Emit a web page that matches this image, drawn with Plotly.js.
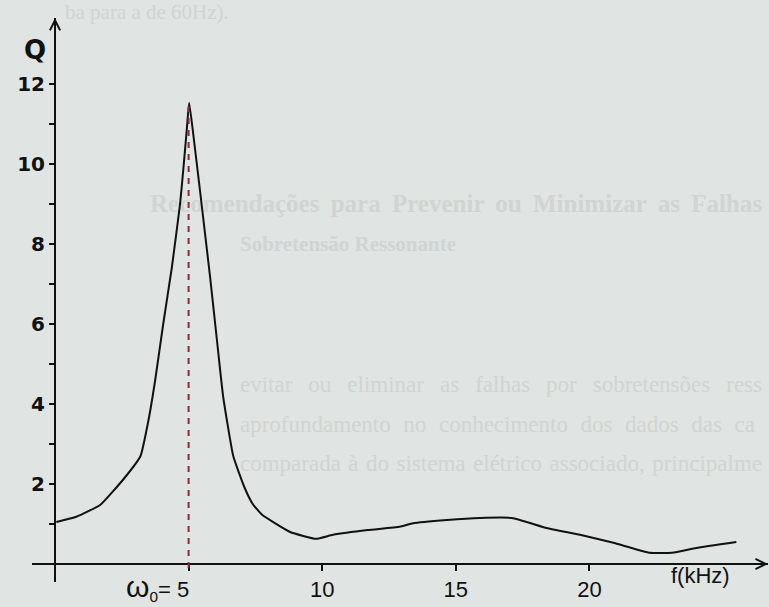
<!DOCTYPE html>
<html>
<head>
<meta charset="utf-8">
<script src="https://cdn.plot.ly/plotly-3.0.1.min.js"></script>
<style>
  html, body { margin: 0; padding: 0; background: #e0e4e2; }
  #wrap { position: relative; width: 769px; height: 607px; overflow: hidden; background: #e0e4e2; }
  #ghost { position: absolute; left: 0; top: 0; width: 769px; height: 607px; }
  #ghost div { position: absolute; white-space: nowrap; font-family: 'Liberation Serif', serif; color: #d0d4d2;
               line-height: 1; }
  #ghost div.j { text-align: justify; text-align-last: justify; }
  #chart { position: absolute; left: 0; top: 0; width: 769px; height: 607px; }
</style>
</head>
<body>
<div id="wrap">
  <div id="ghost"></div>
  <div id="chart"></div>
</div>
<script>
// Frequency (kHz) and quality factor Q
const freq = [0.05, 0.8, 1.7, 2.6, 3.2, 3.5, 3.75, 4.05, 4.37, 4.68, 4.8, 4.93, 5.02,
              5.2, 5.45, 5.8, 6.06, 6.29, 6.67, 7.1, 7.4, 7.75, 8.8, 9.77, 10.4,
              11.7, 12.9, 13.4, 14.67, 15.9, 17.1, 18.4, 19.65, 20.9, 22.27, 23.1, 24.0, 25.5];
const qVals = [1.05, 1.18, 1.48, 2.15, 2.7, 3.6, 4.6, 6.0, 7.4, 9.0, 9.85, 10.85, 11.53,
               10.6, 9.2, 7.2, 5.6, 4.2, 2.7, 1.9, 1.5, 1.23, 0.8, 0.63, 0.73,
               0.85, 0.93, 1.02, 1.1, 1.15, 1.15, 0.9, 0.73, 0.53, 0.28, 0.28, 0.4, 0.55];

const yTickVals = [2, 4, 6, 8, 10, 12];
const yTickText = ['2', '4', '6', '8', '10', '12'];
const yMinorVals = [1, 3, 5, 7, 9, 11];
const xTickVals = [5, 10, 15, 20];
const xTickText = ['', '10', '15', '20'];
const resonance = 5;
const peakQ = 11.45;

const ink = '#111111';

// faint bleed-through text of the scanned page
const ghostLines = [
  {t: 'ba para a de 60Hz).', x: 65, y: 12, w: 0, s: 21, b: false},
  {t: 'Recomendações para Prevenir ou Minimizar as Falhas', x: 150, y: 203, w: 612, s: 25, b: true},
  {t: 'Sobretensão Ressonante', x: 240, y: 244, w: 0, s: 21, b: true},
  {t: 'evitar ou eliminar as falhas por sobretensões ress', x: 240, y: 384, w: 522, s: 23, b: false},
  {t: 'aprofundamento no conhecimento dos dados das ca', x: 240, y: 424, w: 515, s: 23, b: false},
  {t: 'comparada à do sistema elétrico associado, principalme', x: 240, y: 463, w: 522, s: 23, b: false}
];
const ghostEl = document.getElementById('ghost');
ghostLines.forEach(g => {
  const d = document.createElement('div');
  d.textContent = g.t;
  d.style.left = g.x + 'px';
  d.style.top = (g.y - g.s / 2) + 'px';
  if (g.w) { d.style.width = g.w + 'px'; d.className = 'j'; }
  d.style.fontSize = g.s + 'px';
  d.style.fontWeight = g.b ? 'bold' : 'normal';
  ghostEl.appendChild(d);
});

const W = 769, H = 607;
const annotations = [
  // y-axis arrow
  {x: 0, y: 13.65, xref: 'x', yref: 'y', ax: 0, ay: 22, showarrow: true,
   arrowhead: 5, arrowsize: 1, arrowwidth: 2, arrowcolor: ink, text: ''},
  // x-axis arrow
  {x: 26.68, y: 0, xref: 'x', yref: 'y', ax: -22, ay: 0, showarrow: true,
   arrowhead: 5, arrowsize: 1, arrowwidth: 2, arrowcolor: ink, text: ''},
  // Q label
  {xref: 'paper', yref: 'paper', x: 22 / W, y: 1 - 33 / H, showarrow: false,
   text: '<b>Q</b>', font: {family: 'DejaVu Sans', size: 26, color: ink}},
  // omega_0 label
  {xref: 'paper', yref: 'paper', x: 124 / W, y: 1 - 587 / H, xanchor: 'left', yanchor: 'middle',
   showarrow: false,
   text: '<span style="font-size:30px">ω</span><sub>0</sub>= 5',
   font: {family: 'Liberation Sans', size: 22, color: ink}},
  // f(kHz) label
  {xref: 'paper', yref: 'paper', x: 732 / W, y: 1 - 590 / H, showarrow: false,
   text: 'f(kHz)', font: {family: 'Liberation Sans', size: 22, color: ink}}
];

const data = [{
  x: freq, y: qVals, type: 'scatter', mode: 'lines',
  line: {color: ink, width: 2, shape: 'spline', smoothing: 0.4},
  hoverinfo: 'skip'
}];

const layout = {
  width: W, height: H,
  margin: {l: 0, r: 0, t: 0, b: 0, pad: 0},
  paper_bgcolor: 'rgba(0,0,0,0)', plot_bgcolor: 'rgba(0,0,0,0)',
  showlegend: false,
  xaxis: {
    anchor: 'free', position: 43 / H,
    domain: [32 / W, 768 / W],
    range: [-0.861, 26.684],
    showline: true, linewidth: 2, linecolor: ink,
    ticks: 'outside', ticklen: 6, tickwidth: 2, tickcolor: ink,
    tickmode: 'array', tickvals: xTickVals, ticktext: xTickText,
    tickfont: {family: 'Liberation Sans', size: 22, color: ink},
    showgrid: false, zeroline: false, fixedrange: true
  },
  yaxis: {
    anchor: 'free', position: 55 / W,
    domain: [25 / H, 589 / H],
    range: [-0.45, 13.65],
    showline: true, linewidth: 2, linecolor: ink,
    ticks: 'outside', ticklen: 5, tickwidth: 2, tickcolor: ink,
    tickmode: 'array', tickvals: yTickVals, ticktext: yTickText,
    tickfont: {family: 'DejaVu Sans', size: 20, color: ink, weight: 'bold'},
    minor: {tickmode: 'array', tickvals: yMinorVals, ticks: 'outside', ticklen: 5, tickwidth: 2, tickcolor: ink},
    showgrid: false, zeroline: false, fixedrange: true
  },
  shapes: [{
    type: 'line', xref: 'x', yref: 'y',
    x0: resonance, x1: resonance, y0: peakQ, y1: -0.2,
    line: {color: '#8b2a3a', width: 2, dash: '6px,6px'}
  }],
  annotations: annotations
};

Plotly.newPlot('chart', data, layout, {displayModeBar: false, staticPlot: true});
</script>
</body>
</html>
